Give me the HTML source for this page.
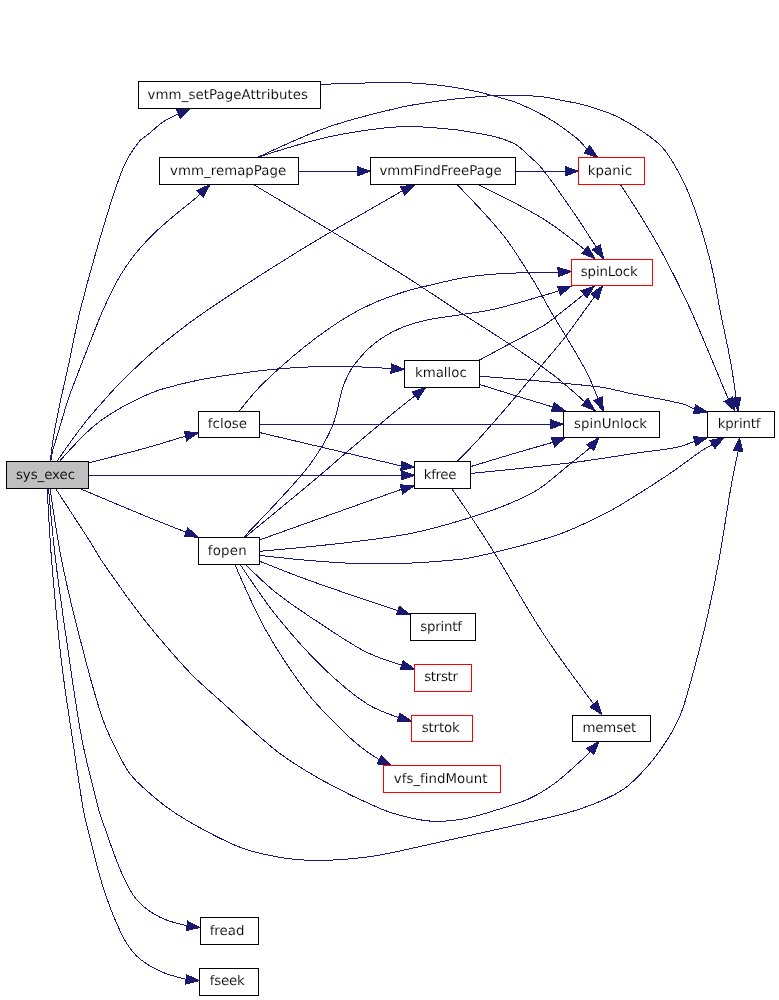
<!DOCTYPE html>
<html lang="en"><head><meta charset="utf-8"><title>sys_exec call graph</title>
<style>html,body{margin:0;padding:0;background:#fff}body{width:779px;height:1000px;overflow:hidden}svg{display:block}text{font-family:"DejaVu Sans","Bitstream Vera Sans","Liberation Sans",sans-serif;font-size:13.33px;fill:#000;stroke:#fff;stroke-width:0.12px;text-rendering:geometricPrecision}text.g{stroke:#bfbfbf}.t{filter:grayscale(1)}.e{fill:none;stroke:#191970;stroke-width:1;shape-rendering:crispEdges}.a{fill:#191970;stroke:#191970;stroke-width:1;shape-rendering:crispEdges}rect{stroke-width:1;shape-rendering:crispEdges}</style></head><body>
<svg width="779" height="1000" viewBox="0 0 779 1000">
<rect x="0" y="0" width="779" height="1000" fill="#fff" stroke="none"/>
<path class="e" d="M50.3,461.3C51.1,454.7 51.8,448.1 52.8,441.6C53.8,434.7 55.1,427.9 56.4,421.0C57.7,414.2 59.0,407.3 60.5,400.5C62.0,393.6 63.7,386.8 65.2,380.0C66.6,373.8 68.0,367.5 69.3,361.3C73.0,344.2 76.0,326.9 80.3,310.0C87.1,283.0 94.6,256.1 102.7,229.4C108.9,208.7 115.0,187.7 123.2,167.8C127.0,158.6 132.6,150.0 138.6,142.2C141.5,138.4 146.2,136.0 150.0,132.9C154.3,129.3 158.2,125.1 162.8,122.0C166.8,119.3 171.4,117.5 175.7,115.3C176.6,114.9 177.4,114.5 178.3,114.1"/>
<polygon class="a" points="180.3,118.4 190.5,108.5 176.4,109.8"/>
<path class="e" d="M50.8,461.3C51.2,458.1 51.6,455.0 52.3,451.9C53.1,448.4 54.4,445.0 55.4,441.6C57.5,434.7 59.5,427.9 61.6,421.0C63.6,414.2 65.4,407.3 67.7,400.5C70.0,393.6 72.8,386.8 75.4,380.0C78.2,372.5 81.1,365.0 84.0,357.6C90.3,341.6 96.3,325.4 103.2,309.6C108.3,298.2 113.7,286.8 120.0,276.0C124.9,267.6 130.7,259.6 136.8,252.0C142.7,244.8 149.3,238.1 156.0,231.6C162.1,225.7 168.7,220.3 175.2,214.8C181.5,209.5 188.1,204.5 194.4,199.2C196.4,197.5 198.3,195.6 200.2,193.7"/>
<polygon class="a" points="203.5,197.1 210.0,184.5 197.0,190.3"/>
<path class="e" d="M56.9,461.3C61.5,454.7 66.1,448.1 70.8,441.6C75.8,434.7 80.8,427.7 86.2,421.0C91.1,414.9 96.4,409.0 101.6,403.1C107.6,396.3 113.6,389.4 120.0,383.0C131.0,372.0 142.1,361.0 154.0,351.0C170.1,337.5 186.7,324.4 204.0,312.5C236.3,290.3 269.3,269.2 302.7,248.7C334.7,229.1 367.5,211.0 400.0,192.2C400.8,191.7 401.7,191.3 402.5,191.0"/>
<polygon class="a" points="404.6,195.2 414.5,185.0 400.4,186.7"/>
<path class="e" d="M59.5,461.3C63.2,457.1 67.0,452.9 70.8,448.8C75.9,443.4 80.8,437.9 86.2,432.9C91.1,428.3 96.2,423.9 101.6,420.0C107.5,415.7 113.7,411.9 120.0,408.3C127.7,403.9 135.7,399.9 143.8,396.2C150.1,393.4 156.6,390.7 163.2,388.8C175.3,385.3 187.6,382.3 200.0,379.8C213.2,377.1 226.6,375.3 240.0,373.4C252.3,371.7 264.6,370.0 277.0,369.0C294.1,367.6 311.3,366.6 328.4,366.3C341.2,366.0 354.1,366.7 366.9,367.2C375.0,367.5 383.1,368.0 391.1,368.6"/>
<polygon class="a" points="390.9,373.2 404.5,369.3 391.4,363.9"/>
<path class="e" d="M88.6,462.8C107.0,458.2 125.5,453.6 143.8,448.6C157.8,444.7 171.7,440.4 185.6,436.1"/>
<polygon class="a" points="186.8,440.7 198.5,432.6 184.3,431.6"/>
<path class="e" d="M88.6,475.3L401.1,475.3"/>
<polygon class="a" points="401.1,480.0 414.5,475.3 401.1,470.6"/>
<path class="e" d="M80.0,488.6C101.2,497.6 122.5,506.6 143.8,515.4C157.8,521.2 171.9,526.7 186.1,532.2"/>
<polygon class="a" points="184.3,536.6 198.5,537.2 187.8,527.9"/>
<path class="e" d="M55.6,488.5C61.7,497.9 67.9,507.4 74.0,516.8C79.3,525.1 84.8,533.3 90.0,541.6C93.8,547.7 97.3,554.0 101.2,560.0C105.9,567.2 111.0,574.2 116.0,581.2C121.3,588.7 126.5,596.2 132.0,603.6C137.2,610.6 142.5,617.6 148.0,624.4C153.2,630.9 158.6,637.3 164.0,643.6C169.3,649.8 174.5,656.0 180.0,662.0C185.2,667.7 190.4,673.4 196.0,678.8C203.8,686.2 212.0,693.2 220.0,700.4C239.0,717.4 257.0,735.7 277.0,751.3C291.4,762.5 307.3,771.9 323.2,780.8C341.6,791.0 360.7,800.3 380.0,808.5C389.9,812.7 400.4,815.6 410.8,818.0C419.2,819.9 427.9,821.3 436.5,821.4C445.9,821.5 455.5,820.5 464.7,818.8C475.1,816.8 485.3,813.5 495.5,810.3C506.7,806.8 518.2,803.7 528.9,798.8C537.9,794.7 546.6,789.3 554.6,783.4C563.6,776.9 571.7,769.0 580.0,761.6C583.6,758.4 586.9,755.0 590.2,751.6"/>
<polygon class="a" points="593.8,754.7 599.0,741.5 586.7,748.5"/>
<path class="e" d="M50.0,488.0C53.4,512.1 56.9,536.2 61.6,560.0C66.7,585.8 73.0,611.5 79.6,637.0C86.7,664.5 93.4,692.3 102.7,719.0C108.3,735.1 116.4,750.4 124.5,765.4C127.5,771.0 131.4,776.4 136.0,780.8C146.8,791.2 158.4,801.3 170.7,810.0C182.5,818.4 195.4,825.4 208.2,832.2C219.9,838.4 231.8,844.5 244.2,848.8C256.6,853.1 269.7,855.6 282.7,857.8C292.8,859.5 303.2,860.2 313.5,860.4C324.6,860.6 335.8,860.0 346.9,859.1C358.0,858.2 369.1,857.0 380.0,855.0C401.5,851.0 422.8,845.8 444.2,841.1C469.0,835.6 493.9,830.3 518.6,824.5C539.1,819.6 560.1,815.7 580.0,809.0C594.7,804.1 609.7,798.1 622.6,789.8C632.4,783.5 640.5,774.2 648.3,765.4C656.0,756.6 662.8,746.9 668.9,737.0C673.9,728.9 678.4,720.4 681.7,711.5C686.9,697.3 690.5,682.4 694.5,667.8C699.1,650.8 703.5,633.7 707.4,616.5C711.7,597.8 715.6,578.9 719.0,560.0C723.3,536.6 726.4,513.1 730.5,489.7C732.8,476.7 735.5,463.8 738.2,450.9"/>
<polygon class="a" points="742.9,451.4 739.5,437.6 733.5,450.5"/>
<path class="e" d="M48.5,488.0C50.6,512.0 52.7,536.1 55.6,560.0C59.2,590.1 63.6,620.0 68.0,650.0C72.4,679.9 76.3,710.0 82.0,739.7C86.6,763.3 92.9,786.6 98.8,810.0C99.8,814.0 101.3,818.0 102.7,821.9C108.6,838.2 113.8,854.8 120.7,870.7C124.9,880.5 129.3,890.9 136.0,898.9C142.1,906.3 150.7,912.4 159.2,916.9C167.7,921.4 177.3,923.6 187.0,925.8"/>
<polygon class="a" points="186.4,930.5 200.3,927.5 187.6,921.1"/>
<path class="e" d="M47.2,488.0C48.4,512.0 49.6,536.0 51.6,560.0C54.4,594.3 57.5,628.6 61.6,662.7C65.2,692.8 70.1,722.7 74.5,752.6C77.3,771.8 80.1,790.9 83.4,810.0C84.4,815.7 85.9,821.4 87.3,827.0C92.3,846.7 96.6,866.7 102.7,886.0C107.7,901.8 113.6,917.4 120.7,932.3C124.7,940.6 129.6,949.0 136.0,955.4C142.4,961.8 150.9,966.8 159.2,970.8C167.6,974.8 176.8,977.1 186.0,979.3"/>
<polygon class="a" points="185.5,984.0 199.3,980.6 186.4,974.7"/>
<path class="e" d="M320.5,84.4C347.0,83.4 373.5,82.4 400.0,82.6C412.9,82.7 425.7,83.8 438.5,85.2C449.7,86.4 460.9,88.3 471.9,90.5C480.7,92.3 489.3,94.7 498.0,97.1C504.0,98.7 510.1,100.3 516.0,102.5C522.1,104.8 528.1,107.7 534.0,110.6C540.1,113.6 546.2,116.8 552.0,120.4C556.9,123.4 561.6,126.9 566.3,130.3C570.6,133.5 575.0,136.6 578.9,140.2C581.9,142.9 584.4,146.1 586.9,149.3"/>
<polygon class="a" points="584.1,153.1 597.7,157.3 589.7,145.6"/>
<path class="e" d="M257.8,157.3C281.0,146.4 304.3,135.4 328.4,127.0C351.7,118.8 375.9,113.2 400.0,107.5C412.6,104.5 425.6,102.9 438.5,101.1C451.3,99.3 464.1,98.0 477.0,96.8C485.5,96.0 494.1,95.3 502.7,95.3C514.9,95.2 527.2,95.4 539.3,96.5C548.4,97.3 557.3,99.4 566.3,101.2C573.5,102.6 580.8,103.8 587.8,106.0C598.7,109.4 610.0,112.6 620.0,118.1C634.4,126.0 649.6,134.5 661.0,146.0C671.0,156.1 677.6,170.1 684.0,183.0C690.5,196.1 695.2,210.1 699.7,224.0C704.7,239.3 708.8,254.9 712.5,270.5C715.6,283.5 717.4,296.9 720.0,310.0C723.4,327.1 727.4,344.1 730.5,361.3C732.7,373.4 734.4,385.6 736.1,397.8"/>
<polygon class="a" points="731.4,398.5 738.2,411.0 740.7,397.0"/>
<path class="e" d="M257.8,157.3C281.2,149.7 304.5,142.1 328.4,137.0C351.9,131.9 376.0,128.2 400.0,126.7C417.0,125.6 434.3,127.9 451.3,129.3C459.9,130.0 468.5,131.7 477.0,133.2C484.0,134.4 491.2,135.5 498.0,137.5C504.2,139.3 510.4,141.6 516.0,144.7C520.0,147.0 523.3,150.6 526.7,153.7C531.9,158.5 537.6,163.0 542.0,168.5C553.6,183.1 564.0,198.7 574.6,214.0C581.6,224.2 588.2,234.7 595.0,245.0C595.5,245.8 596.0,246.5 596.4,247.3"/>
<polygon class="a" points="592.4,249.8 603.5,258.7 600.4,244.8"/>
<path class="e" d="M298.5,171.2L357.1,171.2"/>
<polygon class="a" points="357.1,175.9 370.5,171.2 357.1,166.5"/>
<path class="e" d="M252.6,184.0C301.9,213.4 351.2,242.8 400.0,273.0C419.1,284.8 437.6,297.7 456.5,310.0C474.4,321.6 492.7,332.8 510.4,344.7C525.2,354.6 539.9,364.7 554.0,375.5C564.7,383.7 574.8,392.8 584.8,401.9"/>
<polygon class="a" points="581.8,405.5 595.0,410.6 587.9,398.3"/>
<path class="e" d="M515.5,171.2L565.1,171.2"/>
<polygon class="a" points="565.1,175.9 578.5,171.2 565.1,166.5"/>
<path class="e" d="M477.0,184.0C499.7,195.1 522.4,206.1 543.8,219.2C558.3,228.1 571.6,239.0 584.9,249.9"/>
<polygon class="a" points="581.8,253.5 595.0,258.7 588.0,246.4"/>
<path class="e" d="M456.5,184.0C472.5,200.4 488.5,216.8 502.7,234.6C514.2,249.0 523.7,265.1 533.5,280.8C539.4,290.3 544.4,300.3 550.0,310.0C561.5,329.7 574.1,348.9 585.0,369.0C590.1,378.5 594.1,388.6 598.0,398.7"/>
<polygon class="a" points="593.7,400.6 603.4,411.0 602.3,396.8"/>
<path class="e" d="M620.0,184.0C628.8,197.3 637.5,210.7 645.8,224.3C652.9,236.0 659.7,247.9 666.0,260.0C674.6,276.5 682.9,293.1 690.7,310.0C698.4,326.9 705.3,344.2 712.5,361.3C717.8,374.0 723.1,386.6 728.4,399.3"/>
<polygon class="a" points="724.3,401.6 735.0,411.0 732.5,397.0"/>
<path class="e" d="M239.6,410.7C245.6,403.1 251.5,395.6 258.1,388.6C265.4,380.9 273.3,373.7 281.2,366.6C288.7,359.8 296.4,353.3 304.3,347.0C311.8,341.0 319.5,335.2 327.4,329.7C334.9,324.4 342.6,319.3 350.5,314.7C358.0,310.4 365.7,306.6 373.6,303.1C381.1,299.8 388.9,297.0 396.7,294.3C402.7,292.2 408.8,290.2 415.0,288.8C435.6,284.0 456.1,278.1 477.0,275.7C503.8,272.6 531.0,272.3 558.1,272.1"/>
<polygon class="a" points="558.3,276.8 571.5,271.5 557.9,267.4"/>
<path class="e" d="M259.5,424.2L550.1,424.2"/>
<polygon class="a" points="550.1,428.9 563.5,424.2 550.1,419.5"/>
<path class="e" d="M259.8,432.6L401.1,465.9"/>
<polygon class="a" points="400.8,470.6 414.5,467.0 401.5,461.2"/>
<path class="e" d="M243.6,537.3C262.8,517.5 282.0,497.7 300.0,476.9C307.7,468.1 314.6,458.5 320.7,448.6C325.7,440.5 330.3,431.9 333.5,423.0C338.0,410.6 339.4,396.9 343.8,384.5C346.2,377.7 349.7,371.0 354.0,365.2C359.9,357.3 366.9,349.6 374.6,343.4C382.2,337.3 391.1,332.3 400.0,328.3C408.1,324.6 417.0,322.3 425.7,320.3C436.6,317.8 447.9,316.8 459.0,315.0C471.0,313.0 483.2,311.8 495.0,309.0C514.8,304.3 534.4,298.1 554.0,292.4C555.7,291.9 557.3,291.3 558.9,290.6"/>
<polygon class="a" points="560.5,295.0 571.5,286.0 557.3,286.2"/>
<path class="e" d="M245.0,537.3C269.4,517.3 293.8,497.3 318.0,477.0C330.1,466.8 341.9,456.2 354.0,446.0C369.2,433.1 384.6,420.3 400.0,407.6C405.0,403.5 410.0,399.6 415.1,395.8"/>
<polygon class="a" points="418.0,399.5 425.7,387.5 412.2,392.1"/>
<path class="e" d="M259.8,539.8L401.5,489.3"/>
<polygon class="a" points="402.7,493.8 414.5,485.9 400.3,484.8"/>
<path class="e" d="M259.8,551.3C306.8,547.2 353.7,543.1 400.0,535.4C426.1,531.1 451.8,523.5 477.0,515.4C496.3,509.2 515.8,501.9 533.5,492.3C545.7,485.7 555.9,475.3 566.9,466.6C574.8,460.4 582.5,454.1 590.2,447.7"/>
<polygon class="a" points="593.8,450.8 599.0,437.6 586.7,444.6"/>
<path class="e" d="M259.8,555.4C277.1,557.3 294.3,559.3 311.6,560.7C328.0,562.0 344.5,563.3 360.9,563.7C377.3,564.1 393.8,563.8 410.2,563.1C426.7,562.4 443.1,561.1 459.5,559.4C466.4,558.7 473.2,557.3 480.0,555.8C494.0,552.7 507.9,549.3 521.7,545.5C535.7,541.6 549.9,538.0 563.4,532.7C578.8,526.7 593.7,519.4 608.4,511.8C619.4,506.1 629.9,499.2 640.5,492.6C651.3,485.8 662.1,478.9 672.6,471.7C682.4,465.0 691.6,457.6 701.4,450.9C704.9,448.5 708.7,446.5 712.4,444.6"/>
<polygon class="a" points="714.9,448.6 723.9,437.6 710.0,440.5"/>
<path class="e" d="M259.8,561.3C274.1,567.0 288.3,572.7 302.7,578.0C319.7,584.3 336.9,590.1 354.0,596.0C368.5,601.0 383.1,605.8 397.8,610.6"/>
<polygon class="a" points="396.3,615.0 410.5,614.7 399.2,606.1"/>
<path class="e" d="M245.0,564.0C255.3,574.2 265.6,584.5 277.0,593.4C291.7,605.0 307.5,615.2 323.2,625.5C337.5,634.9 351.7,644.7 366.9,652.4C377.9,657.9 389.8,661.6 401.7,665.2"/>
<polygon class="a" points="400.3,669.7 414.5,669.0 403.0,660.7"/>
<path class="e" d="M239.8,564.0C251.7,581.9 263.6,599.8 277.0,616.5C291.4,634.4 306.7,651.8 323.2,667.8C336.7,680.9 351.3,693.5 366.9,703.8C376.4,710.1 387.5,713.8 398.6,717.5"/>
<polygon class="a" points="397.3,722.0 411.5,721.2 399.9,713.0"/>
<path class="e" d="M234.7,564.0C244.6,587.1 254.5,610.2 266.8,631.9C278.9,653.3 292.8,674.0 307.8,693.5C318.5,707.4 331.4,719.6 343.8,732.0C350.1,738.3 357.0,744.0 364.0,749.5C368.8,753.2 374.0,756.4 379.2,759.6"/>
<polygon class="a" points="377.2,763.9 391.3,765.3 381.2,755.4"/>
<path class="e" d="M479.6,360.0C489.9,354.5 500.1,348.9 510.4,343.4C521.5,337.4 533.1,332.0 543.8,325.4C551.0,320.9 557.5,315.2 564.3,310.0C570.9,304.9 577.5,299.6 584.0,294.3"/>
<polygon class="a" points="586.9,298.0 594.5,286.0 581.1,290.7"/>
<path class="e" d="M479.6,376.2C519.8,379.3 560.0,382.4 600.0,387.0C610.1,388.2 620.0,391.4 630.0,393.4C647.2,396.9 664.7,399.5 681.7,403.7C686.2,404.8 690.3,407.0 694.5,409.1"/>
<polygon class="a" points="693.4,413.7 707.5,412.2 695.5,404.6"/>
<path class="e" d="M479.6,384.5C493.3,388.8 507.0,393.1 520.7,397.3C531.4,400.6 542.1,403.8 552.8,407.0"/>
<polygon class="a" points="551.4,411.5 565.6,411.0 554.2,402.5"/>
<path class="e" d="M457.0,461.3C463.8,454.7 470.6,448.0 477.0,441.0C489.3,427.5 501.2,413.7 513.0,399.9C521.7,389.7 530.0,379.3 538.6,369.0C547.1,358.7 556.0,348.7 564.3,338.2C571.5,329.0 578.0,319.4 584.9,310.0C588.1,305.6 591.3,301.2 594.6,296.8"/>
<polygon class="a" points="598.4,299.6 602.5,286.0 590.8,294.0"/>
<path class="e" d="M470.6,466.6C484.7,462.3 498.8,458.0 513.0,453.8C526.3,449.9 539.7,446.1 553.0,442.3"/>
<polygon class="a" points="554.7,446.7 565.6,437.6 551.4,437.9"/>
<path class="e" d="M470.6,473.5C505.9,470.0 541.1,466.4 576.3,462.1C597.8,459.4 619.1,455.6 640.5,452.5C652.5,450.7 664.7,449.9 676.6,447.4C682.8,446.1 688.7,443.7 694.6,441.2"/>
<polygon class="a" points="695.9,445.8 707.5,437.6 693.3,436.7"/>
<path class="e" d="M451.3,488.0C458.3,497.9 465.2,507.9 471.9,518.0C481.1,531.9 490.1,545.9 498.8,560.0C514.0,584.7 527.9,610.3 543.8,634.5C559.5,658.3 576.6,681.2 593.7,704.1"/>
<polygon class="a" points="590.0,707.0 602.0,714.7 597.4,701.2"/>
<rect x="6.5" y="461.5" width="82.0" height="27.0" fill="#bfbfbf" stroke="#000"/>
<rect x="138.5" y="81.5" width="182.0" height="27.0" fill="#fff" stroke="#000"/>
<rect x="159.5" y="157.5" width="139.0" height="27.0" fill="#fff" stroke="#000"/>
<rect x="370.5" y="157.5" width="145.0" height="27.0" fill="#fff" stroke="#000"/>
<rect x="578.5" y="157.5" width="66.0" height="27.0" fill="#fff" stroke="#f00"/>
<rect x="571.5" y="259.5" width="81.0" height="26.0" fill="#fff" stroke="#f00"/>
<rect x="404.5" y="360.5" width="75.0" height="27.0" fill="#fff" stroke="#000"/>
<rect x="198.5" y="411.5" width="61.0" height="26.0" fill="#fff" stroke="#000"/>
<rect x="563.5" y="411.5" width="96.0" height="26.0" fill="#fff" stroke="#000"/>
<rect x="707.5" y="411.5" width="67.0" height="26.0" fill="#fff" stroke="#000"/>
<rect x="414.5" y="461.5" width="56.0" height="27.0" fill="#fff" stroke="#000"/>
<rect x="198.5" y="537.5" width="61.0" height="27.0" fill="#fff" stroke="#000"/>
<rect x="410.5" y="613.5" width="65.0" height="27.0" fill="#fff" stroke="#000"/>
<rect x="414.5" y="664.5" width="57.0" height="27.0" fill="#fff" stroke="#f00"/>
<rect x="411.5" y="715.5" width="61.0" height="26.0" fill="#fff" stroke="#f00"/>
<rect x="572.5" y="715.5" width="78.0" height="26.0" fill="#fff" stroke="#000"/>
<rect x="383.5" y="765.5" width="117.0" height="27.0" fill="#fff" stroke="#f00"/>
<rect x="200.5" y="917.5" width="58.0" height="27.0" fill="#fff" stroke="#000"/>
<rect x="199.5" y="968.5" width="59.0" height="27.0" fill="#fff" stroke="#000"/>
<g class="t">
<text class="g" x="15.95" y="478.9" letter-spacing="-0.054">sys_exec</text>
<text x="147.62" y="98.8" letter-spacing="0.071">vmm_setPageAttributes</text>
<text x="170.03" y="174.8" letter-spacing="0.038">vmm_remapPage</text>
<text x="379.43" y="174.8" letter-spacing="0.041">vmmFindFreePage</text>
<text x="587.65" y="174.8" letter-spacing="0.110">kpanic</text>
<text x="580.80" y="275.9" letter-spacing="-0.154">spinLock</text>
<text x="414.95" y="376.9" letter-spacing="0.008">kmalloc</text>
<text x="207.75" y="427.9" letter-spacing="0.055">fclose</text>
<text x="573.95" y="427.9" letter-spacing="0.047">spinUnlock</text>
<text x="717.75" y="427.9" letter-spacing="-0.158">kprintf</text>
<text x="423.85" y="478.9" letter-spacing="-0.356">kfree</text>
<text x="207.75" y="554.9" letter-spacing="0.219">fopen</text>
<text x="420.15" y="630.9" letter-spacing="-0.200">sprintf</text>
<text x="424.25" y="680.9" letter-spacing="-0.320">strstr</text>
<text x="421.85" y="731.9" letter-spacing="-0.195">strtok</text>
<text x="582.45" y="731.9" letter-spacing="-0.140">memset</text>
<text x="393.82" y="782.9" letter-spacing="0.023">vfs_findMount</text>
<text x="209.65" y="934.9" letter-spacing="0.038">fread</text>
<text x="209.65" y="984.9" letter-spacing="-0.169">fseek</text>
</g>
</svg></body></html>
